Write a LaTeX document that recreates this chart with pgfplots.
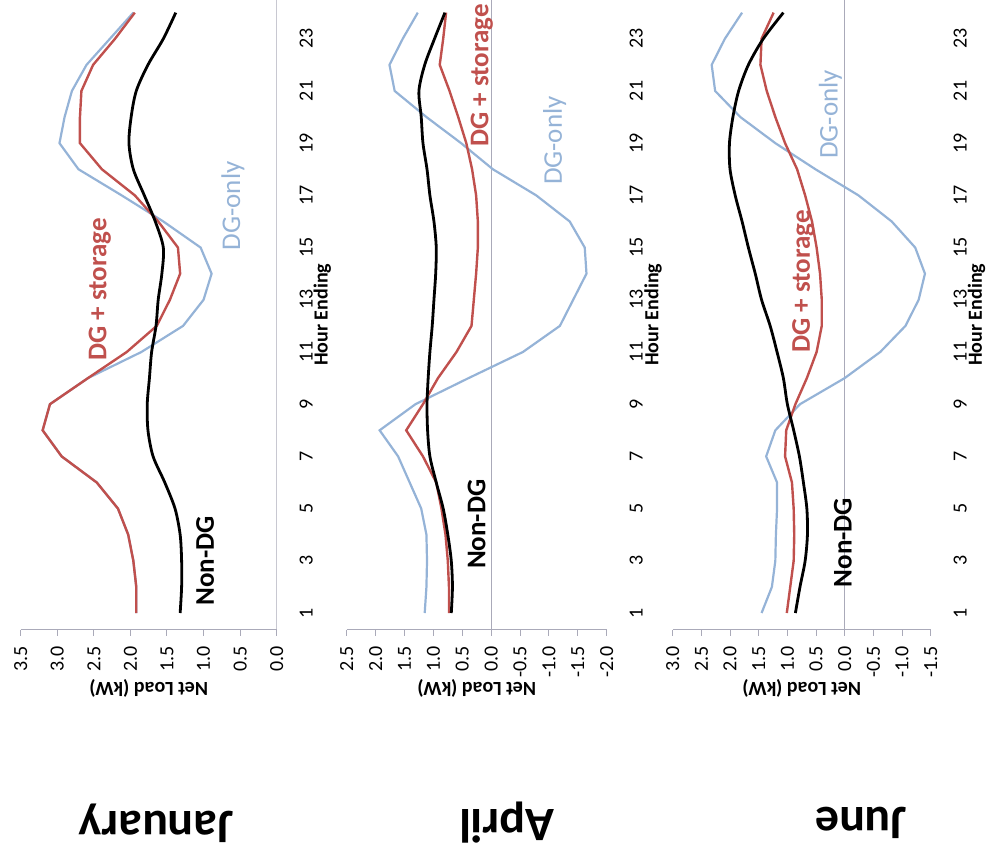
\documentclass[border=0pt]{standalone}
\usepackage{pgfplots}
\pgfplotsset{compat=1.18}
\usepackage{pgfplotstable}
\usepackage{fontspec}
\setmainfont{Carlito}
\definecolor{dgred}{RGB}{192,80,77}
\definecolor{dgblue}{RGB}{149,179,215}
\definecolor{axgray}{RGB}{170,170,185}

\pgfplotstableread{
h nondg stor only
1 1.32 1.92 1.92
2 1.30 1.92 1.92
3 1.30 1.96 1.96
4 1.32 2.03 2.03
5 1.39 2.17 2.17
6 1.53 2.46 2.46
7 1.69 2.94 2.94
8 1.76 3.20 3.20
9 1.77 3.10 3.10
10 1.74 2.58 2.58
11 1.71 2.05 1.85
12 1.65 1.64 1.28
13 1.62 1.46 1.00
14 1.57 1.32 0.89
15 1.55 1.35 1.04
16 1.66 1.62 1.55
17 1.81 1.94 2.12
18 1.96 2.39 2.71
19 2.02 2.69 2.97
20 1.99 2.69 2.90
21 1.92 2.67 2.80
22 1.76 2.51 2.60
23 1.55 2.21 2.28
24 1.38 1.94 1.96
}\jan

\pgfplotstableread{
h nondg stor only
1 0.69 0.73 1.15
2 0.67 0.73 1.12
3 0.69 0.75 1.11
4 0.75 0.79 1.12
5 0.83 0.86 1.21
6 0.95 0.95 1.41
7 1.06 1.18 1.61
8 1.10 1.47 1.93
9 1.11 1.18 1.31
10 1.09 0.92 0.39
11 1.06 0.60 -0.55
12 1.02 0.34 -1.19
13 0.99 0.30 -1.42
14 0.96 0.26 -1.65
15 0.95 0.23 -1.62
16 0.99 0.23 -1.36
17 1.06 0.26 -0.78
18 1.11 0.33 -0.03
19 1.18 0.43 0.52
20 1.21 0.57 1.12
21 1.25 0.72 1.67
22 1.15 0.89 1.76
23 0.98 0.83 1.53
24 0.80 0.78 1.27
}\apr

\pgfplotstableread{
h nondg stor only
1 0.86 1.01 1.45
2 0.78 0.95 1.27
3 0.69 0.89 1.21
4 0.65 0.88 1.20
5 0.66 0.89 1.18
6 0.72 0.92 1.18
7 0.79 1.04 1.37
8 0.89 1.02 1.21
9 1.00 0.86 0.78
10 1.07 0.66 0.00
11 1.18 0.49 -0.62
12 1.30 0.40 -1.06
13 1.45 0.40 -1.29
14 1.56 0.43 -1.40
15 1.68 0.49 -1.23
16 1.79 0.57 -0.82
17 1.91 0.69 -0.24
18 2.00 0.83 0.51
19 2.01 1.04 1.21
20 1.95 1.21 1.82
21 1.85 1.36 2.26
22 1.68 1.47 2.32
23 1.42 1.45 2.09
24 1.07 1.24 1.79
}\jun

\tikzset{
  lab/.style={rotate=90, font=\bfseries\fontsize{13.5}{16}\selectfont},
  labreg/.style={rotate=90, font=\fontsize{13.5}{16}\selectfont},
}

\pgfplotsset{
  panel/.style={
    scale only axis, anchor=center, height=315.2pt,
    ymin=0.35, ymax=24.5,
    axis x line*=bottom, axis y line*=right,
    x axis line style={-, draw=axgray, line width=0.5pt},
    y axis line style={-, draw=none},
    /pgf/number format/assume math mode=true,
    ytick={1,3,...,23},
    yticklabels={1,3,5,7,9,11,13,15,17,19,21,23},
    tick align=outside, major tick length=3pt,
    xtick style={draw=axgray, line width=0.5pt},
    ytick style={draw=none},
    xticklabel style={rotate=90, anchor=east, font=\fontsize{10}{12}\selectfont},
    yticklabel style={rotate=90, anchor=north, font=\fontsize{10}{12}\selectfont},
    xticklabel shift=1.7pt, yticklabel shift=5pt,
    xlabel={Net Load (kW)},
    xlabel style={at={(axis description cs:0.5,-0.092)}, anchor=center, rotate=180, font=\bfseries\fontsize{10}{12}\selectfont},
    ylabel={Hour Ending},
    ylabel style={at={(axis description cs:1.178,0.5)}, anchor=center, font=\bfseries\fontsize{10}{12}\selectfont},
  },
  nondg/.style={black, line width=1.4pt, smooth, no markers},
  stor/.style={dgred, line width=1.2pt, no markers},
  only/.style={dgblue, line width=1.1pt, no markers},
}

\begin{document}
\begin{tikzpicture}
\path[use as bounding box] (0,0) rectangle (493pt,425pt);

% January
\begin{axis}[panel, at={(74.35pt,267.6pt)}, width=128pt,
  xmin=-3.5, xmax=0,
  xtick={-3.5,-3,-2.5,-2,-1.5,-1,-0.5,0},
  xticklabels={3.5,3.0,2.5,2.0,1.5,1.0,0.5,0.0}]
\draw[axgray, line width=0.5pt] (axis cs:0,0.35) -- (axis cs:0,24.5);
\addplot[only] table[x expr=-\thisrow{only}, y=h] {\jan};
\addplot[stor] table[x expr=-\thisrow{stor}, y=h] {\jan};
\addplot[nondg] table[x expr=-\thisrow{nondg}, y=h] {\jan};
\node[lab, text=dgred] at (axis cs:-2.42,13.4) {DG + storage};
\node[labreg, text=dgblue] at (axis cs:-0.60,16.6) {DG-only};
\node[lab] at (axis cs:-0.98,3.0) {Non-DG};
\end{axis}

% April
\begin{axis}[panel, at={(238.35pt,267.6pt)}, width=130pt,
  xmin=-2.5, xmax=2,
  xtick={-2.5,-2,-1.5,-1,-0.5,0,0.5,1,1.5,2},
  xticklabels={2.5,2.0,1.5,1.0,0.5,0.0,-0.5,-1.0,-1.5,-2.0}]
\draw[axgray, line width=0.5pt] (axis cs:0,0.35) -- (axis cs:0,24.5);
\addplot[only] table[x expr=-\thisrow{only}, y=h] {\apr};
\addplot[stor] table[x expr=-\thisrow{stor}, y=h] {\apr};
\addplot[nondg] table[x expr=-\thisrow{nondg}, y=h] {\apr};
\node[lab, text=dgred] at (axis cs:-0.16,21.6) {DG + storage};
\node[labreg, text=dgblue] at (axis cs:1.10,19.1) {DG-only};
\node[lab] at (axis cs:-0.25,4.4) {Non-DG};
\end{axis}

% June
\begin{axis}[panel, at={(400.85pt,267.6pt)}, width=129pt,
  xmin=-3, xmax=1.5,
  xtick={-3,-2.5,-2,-1.5,-1,-0.5,0,0.5,1,1.5},
  xticklabels={3.0,2.5,2.0,1.5,1.0,0.5,0.0,-0.5,-1.0,-1.5}]
\draw[axgray, line width=0.5pt] (axis cs:0,0.35) -- (axis cs:0,24.5);
\addplot[only] table[x expr=-\thisrow{only}, y=h] {\jun};
\addplot[stor] table[x expr=-\thisrow{stor}, y=h] {\jun};
\addplot[nondg] table[x expr=-\thisrow{nondg}, y=h] {\jun};
\node[lab, text=dgred] at (axis cs:-0.72,13.7) {DG + storage};
\node[labreg, text=dgblue] at (axis cs:-0.25,20.1) {DG-only};
\node[lab] at (axis cs:-0.03,3.7) {Non-DG};
\end{axis}

\node[rotate=180, font=\bfseries\fontsize{24}{28}\selectfont] at (78pt,13.5pt) {January};
\node[rotate=180, font=\bfseries\fontsize{24}{28}\selectfont] at (253.5pt,13.5pt) {April};
\node[rotate=180, font=\bfseries\fontsize{24}{28}\selectfont] at (430.5pt,13.5pt) {June};
\end{tikzpicture}
\end{document}
